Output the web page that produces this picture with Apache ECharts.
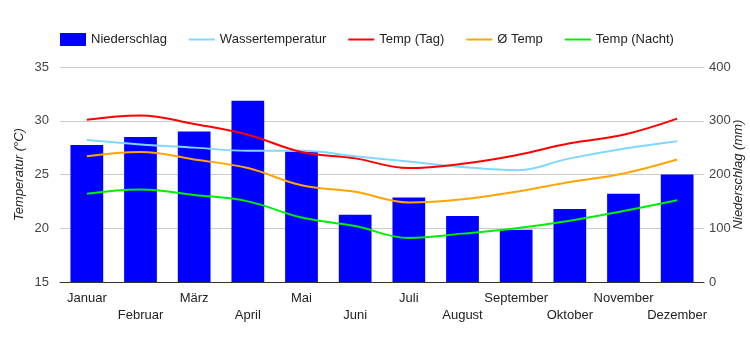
<!DOCTYPE html>
<html>
<head>
<meta charset="utf-8">
<script src="https://cdn.jsdelivr.net/npm/echarts@6/dist/echarts.min.js"></script>
<style>
  html, body { margin: 0; padding: 0; background: #fff; }
  #chart { width: 750px; height: 350px; }
</style>
</head>
<body>
<div id="chart"></div>
<script>
// Monate
var months = ['Januar', 'Februar', 'März', 'April', 'Mai', 'Juni', 'Juli', 'August', 'September', 'Oktober', 'November', 'Dezember'];
// Niederschlag (mm)
var niederschlag = [255, 270, 280, 337, 243, 125, 157, 123, 97, 136, 164, 200];
// Temperaturen (°C)
var wasserTemp = [28.2, 27.8, 27.5, 27.2, 27.2, 26.7, 26.2, 25.7, 25.4, 26.5, 27.4, 28.1];
var tempTag = [30.1, 30.5, 29.7, 28.7, 27.1, 26.5, 25.6, 26.0, 26.8, 27.9, 28.7, 30.2];
var tempMittel = [26.7, 27.1, 26.4, 25.6, 24.0, 23.4, 22.4, 22.7, 23.4, 24.3, 25.1, 26.4];
var tempNacht = [23.2, 23.6, 23.1, 22.5, 21.0, 20.2, 19.1, 19.5, 20.0, 20.7, 21.6, 22.6];

var font = 'Liberation Sans, Arial, sans-serif';
var chart = echarts.init(document.getElementById('chart'));

function lineSeries(name, data, color) {
  return {
    name: name,
    type: 'line',
    yAxisIndex: 0,
    data: data,
    smooth: 0.4,
    symbol: 'none',
    lineStyle: { color: color, width: 2 },
    itemStyle: { color: color },
    z: 3
  };
}

// Legendeneintrag nur als Linie (ohne Kreis)
function lineLegend(name) {
  return { name: name, itemStyle: { opacity: 0 } };
}

chart.setOption({
  animation: false,
  textStyle: { fontFamily: font },
  grid: { left: 60, right: 46, top: 67, bottom: 68, outerBoundsMode: 'none' },
  legend: {
    left: 55,
    top: 28,
    itemWidth: 26,
    itemHeight: 13,
    itemGap: 21,
    textStyle: { fontSize: 13, color: '#222', fontFamily: font },
    data: [
      { name: 'Niederschlag', icon: 'rect' },
      lineLegend('Wassertemperatur'),
      lineLegend('Temp (Tag)'),
      lineLegend('Ø Temp'),
      lineLegend('Temp (Nacht)')
    ]
  },
  xAxis: {
    type: 'category',
    data: months,
    axisLine: { lineStyle: { color: '#333', width: 1 } },
    axisTick: { show: false },
    axisLabel: {
      interval: 0,
      margin: 8,
      fontSize: 13,
      color: '#222',
      lineHeight: 17,
      formatter: function (v, i) { return i % 2 === 1 ? '\n' + v : v; }
    }
  },
  yAxis: [
    {
      type: 'value',
      min: 15, max: 35, interval: 5,
      position: 'left',
      name: 'Temperatur (°C)',
      nameLocation: 'middle',
      nameRotate: 90,
      nameGap: 34,
      nameMoveOverlap: false,
      nameTextStyle: { fontStyle: 'italic', fontSize: 13, color: '#222' },
      axisLine: { show: false },
      axisTick: { show: false },
      axisLabel: { fontSize: 13, color: '#444', margin: 11 },
      splitLine: { lineStyle: { color: '#ccc' } }
    },
    {
      type: 'value',
      min: 0, max: 400, interval: 100,
      position: 'right',
      name: 'Niederschlag (mm)',
      nameLocation: 'middle',
      nameRotate: 90,
      nameGap: 28,
      nameMoveOverlap: false,
      nameTextStyle: { fontStyle: 'italic', fontSize: 13, color: '#222' },
      axisLine: { show: false },
      axisTick: { show: false },
      axisLabel: { fontSize: 13, color: '#444', margin: 5 },
      splitLine: { show: false }
    }
  ],
  series: [
    {
      name: 'Niederschlag',
      type: 'bar',
      yAxisIndex: 1,
      data: niederschlag,
      barCategoryGap: '39%',
      itemStyle: { color: '#0000ff' },
      z: 2
    },
    lineSeries('Wassertemperatur', wasserTemp, '#80d8ff'),
    lineSeries('Temp (Tag)', tempTag, '#ff0000'),
    lineSeries('Ø Temp', tempMittel, '#ffa500'),
    lineSeries('Temp (Nacht)', tempNacht, '#00ee00')
  ]
});
</script>
</body>
</html>
